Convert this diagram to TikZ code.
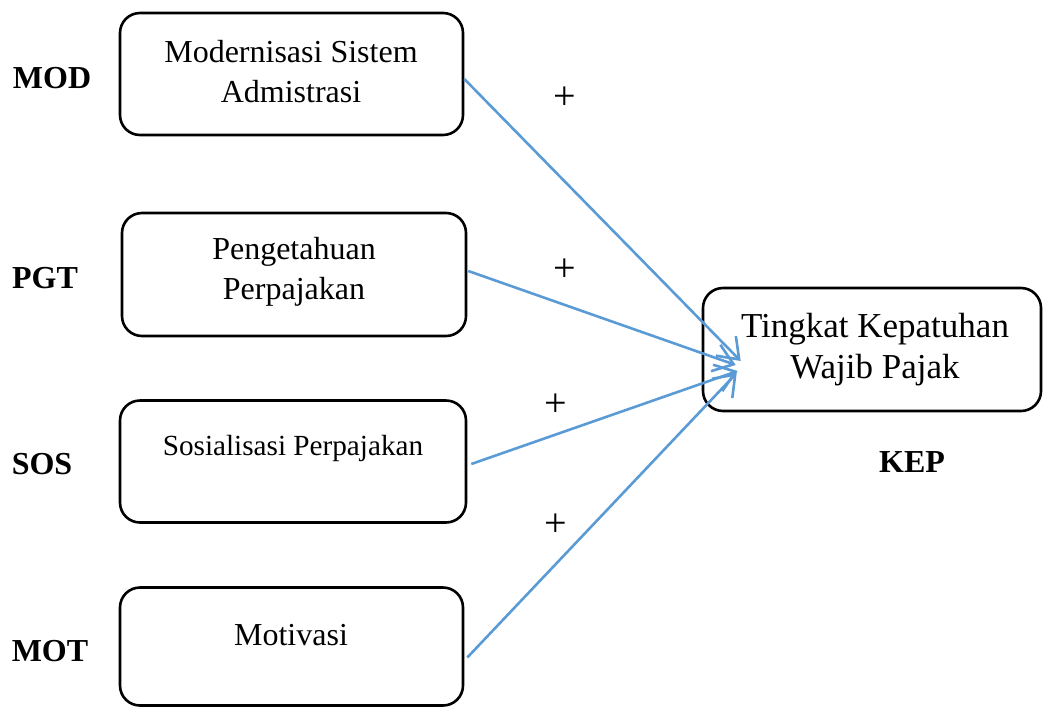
\documentclass[tikz,border=0pt]{standalone}
\usepackage{fontspec}
\setmainfont{Liberation Serif}
\usetikzlibrary{arrows.meta}
\definecolor{arrowblue}{RGB}{91,155,213}
\tikzset{
  varbox/.style={draw, line width=1.3pt, rounded corners=10pt, inner sep=0pt},
  boxtext/.style={align=center, inner sep=0pt, font=\fontsize{16}{20}\selectfont},
  varlabel/.style={inner sep=0pt, font=\fontsize{16}{20}\selectfont\bfseries},
  sign/.style={inner sep=0pt, font=\fontsize{20}{24}\selectfont},
  link/.style={draw=arrowblue, line width=1.3pt, -{Straight Barb[length=9.5pt,width=14pt,line width=1.3pt]}}
}
\begin{document}
\begin{tikzpicture}[x=0.5pt, y=-0.5pt]
  \useasboundingbox (0,0) rectangle (1043,707);

  % Boxes
  \node[varbox, minimum width=171.5pt, minimum height=61pt] (mod) at (291.5,74) {};
  \node[varbox, minimum width=172pt, minimum height=61.5pt] (pgt) at (294,274.5) {};
  \node[varbox, minimum width=173pt, minimum height=61pt] (sos) at (293,461.5) {};
  \node[varbox, minimum width=171.5pt, minimum height=59pt] (mot) at (291.5,646.5) {};
  \node[varbox, minimum width=169pt, minimum height=61.5pt] (kep) at (872,349.5) {};

  % Texts in the boxes
  \node[boxtext] (modtext) at (291,72) {Modernisasi Sistem\\Admistrasi};
  \node[boxtext] (pgttext) at (294,272) {Pengetahuan\\Perpajakan};
  \node[boxtext, font=\fontsize{14.6}{18}\selectfont] (sostext) at (293,448) {Sosialisasi Perpajakan};
  \node[boxtext] (mottext) at (291,635) {Motivasi};
  \node[boxtext, font=\fontsize{17.5}{20.5}\selectfont] (keptext) at (875,350) {Tingkat Kepatuhan\\Wajib Pajak};

  % Variable names
  \node[varlabel] (modlabel) at (52,78) {MOD};
  \node[varlabel] (pgtlabel) at (45,278) {PGT};
  \node[varlabel] (soslabel) at (42,464) {SOS};
  \node[varlabel] (motlabel) at (50,651) {MOT};
  \node[varlabel] (keplabel) at (912,462) {KEP};

  % Arrows
  \draw[link] ([yshift=-2.5pt]mod.east) -- ([xshift=19.5pt,yshift=-5.75pt]kep.west);
  \draw[link] ([xshift=0.5pt,yshift=1.75pt]pgt.east) -- ([xshift=17pt,yshift=-7.75pt]kep.west);
  \draw[link] ([xshift=2pt,yshift=-1.25pt]sos.east) -- ([xshift=18pt,yshift=-10.75pt]kep.west);
  \draw[link] ([xshift=1.5pt,yshift=-5.5pt]mot.east) -- ([xshift=17.5pt,yshift=-11.75pt]kep.west);

  % Signs
  \node[sign] (modsign) at (565,98) {+};
  \node[sign] (pgtsign) at (565,270) {+};
  \node[sign] (sossign) at (556,405) {+};
  \node[sign] (motsign) at (556,525) {+};
\end{tikzpicture}
\end{document}
